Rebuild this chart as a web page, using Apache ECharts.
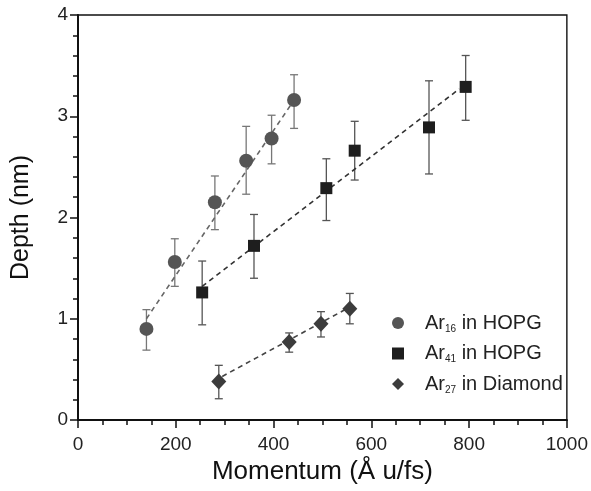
<!DOCTYPE html>
<html>
<head>
<meta charset="utf-8">
<script src="https://cdn.jsdelivr.net/npm/echarts@6/dist/echarts.min.js"></script>
<style>html,body{margin:0;padding:0;background:#fff}#c{width:591px;height:491px}</style>
</head>
<body>
<div id="c"></div>
<script>
// Ar16 in HOPG
var ar16X = [140, 198, 280, 344, 396, 442];
var ar16Y = [0.90, 1.56, 2.15, 2.56, 2.78, 3.16];
var ar16Lo = [0.69, 1.32, 1.88, 2.23, 2.53, 2.88];
var ar16Hi = [1.09, 1.79, 2.41, 2.90, 3.01, 3.41];
var ar16Fit = [[140, 1.00], [442, 3.16]];
// Ar41 in HOPG
var ar41X = [254, 360, 508, 566, 718, 793];
var ar41Y = [1.26, 1.72, 2.29, 2.66, 2.89, 3.29];
var ar41Lo = [0.94, 1.40, 1.97, 2.37, 2.43, 2.96];
var ar41Hi = [1.57, 2.03, 2.58, 2.95, 3.35, 3.60];
var ar41Fit = [[254, 1.32], [780, 3.27]];
// Ar27 in Diamond
var ar27X = [288, 432, 497, 556];
var ar27Y = [0.38, 0.77, 0.95, 1.10];
var ar27Lo = [0.21, 0.67, 0.82, 0.95];
var ar27Hi = [0.54, 0.86, 1.07, 1.25];
var ar27Fit = [[295, 0.43], [550, 1.10]];
var xTicks = [0, 200, 400, 600, 800, 1000];
var yTicks = [0, 1, 2, 3, 4];

function pts(xs, ys) { return xs.map(function (x, i) { return [x, ys[i]]; }); }
function errs(xs, lo, hi) { return xs.map(function (x, i) { return [x, lo[i], hi[i]]; }); }

function errSeries(data, color) {
  return {
    type: 'custom',
    silent: true,
    z: 1,
    data: data,
    encode: { x: 0, y: [1, 2] },
    renderItem: function (params, api) {
      var x = api.value(0);
      var lo = api.coord([x, api.value(1)]);
      var hi = api.coord([x, api.value(2)]);
      var w = 4;
      var st = { stroke: color, lineWidth: 1.3 };
      return {
        type: 'group',
        children: [
          { type: 'line', shape: { x1: lo[0], y1: lo[1], x2: hi[0], y2: hi[1] }, style: st },
          { type: 'line', shape: { x1: lo[0] - w, y1: lo[1], x2: lo[0] + w, y2: lo[1] }, style: st },
          { type: 'line', shape: { x1: hi[0] - w, y1: hi[1], x2: hi[0] + w, y2: hi[1] }, style: st }
        ]
      };
    }
  };
}
function fitSeries(data, color) {
  return {
    type: 'line', data: data, symbol: 'none', silent: true, z: 2,
    lineStyle: { type: [5, 4], width: 1.6, color: color }
  };
}

var FONT = 'Arial, Liberation Sans, Helvetica, sans-serif';
var chart = echarts.init(document.getElementById('c'));
var names = ['Ar16 in HOPG', 'Ar41 in HOPG', 'Ar27 in Diamond'];
chart.setOption({
  animation: false,
  backgroundColor: '#fff',
  grid: { left: 78, right: 24, top: 15, bottom: 71, show: true, borderColor: '#111', borderWidth: 1.4, backgroundColor: 'transparent' },
  legend: {
    data: [
      { name: names[0], icon: 'circle' },
      { name: names[1], icon: 'rect' },
      { name: names[2], icon: 'diamond' }
    ],
    orient: 'vertical', left: 392, top: 313, padding: 0, itemWidth: 12, itemHeight: 12, itemGap: 9.5,
    formatter: function (n) {
      var m = n.match(/^Ar(\d+)(.*)$/);
      return '{a0|Ar}{s|' + m[1] + '}{a|' + m[2] + '}';
    },
    textStyle: {
      rich: {
        a0: { fontFamily: FONT, fontSize: 20, color: '#222', lineHeight: 22, verticalAlign: 'middle', padding: [0, 0, 0, 16] },
        a: { fontFamily: FONT, fontSize: 20, color: '#222', lineHeight: 22, verticalAlign: 'middle' },
        s: { fontFamily: FONT, fontSize: 10, color: '#222', lineHeight: 4, verticalAlign: 'bottom' }
      }
    }
  },
  xAxis: {
    type: 'value', min: 0, max: 1000, interval: 200,
    name: 'Momentum (Å u/fs)', nameLocation: 'middle', nameGap: 39,
    nameTextStyle: { fontFamily: FONT, fontSize: 26, color: '#111' },
    axisLine: { lineStyle: { color: '#111', width: 2 } },
    axisTick: { inside: false, length: 8, lineStyle: { color: '#111', width: 1.5 } },
    minorTick: { show: true, splitNumber: 4, length: 5, lineStyle: { color: '#111', width: 1.5 } },
    axisLabel: { fontFamily: FONT, fontSize: 19, color: '#222', margin: 15,
      formatter: function (v) { return xTicks.indexOf(v) >= 0 ? String(v) : ''; } },
    splitLine: { show: false }
  },
  yAxis: {
    type: 'value', min: 0, max: 4, interval: 1,
    name: 'Depth (nm)', nameLocation: 'middle', nameGap: 44,
    nameTextStyle: { fontFamily: FONT, fontSize: 25, color: '#111' },
    axisLine: { lineStyle: { color: '#111', width: 2 } },
    axisTick: { inside: false, length: 8, lineStyle: { color: '#111', width: 1.5 } },
    minorTick: { show: true, splitNumber: 5, length: 5, lineStyle: { color: '#111', width: 1.5 } },
    axisLabel: { fontFamily: FONT, fontSize: 19, color: '#222', margin: 10,
      formatter: function (v) { return yTicks.indexOf(v) >= 0 ? String(v) : ''; } },
    splitLine: { show: false }
  },
  series: [
    errSeries(errs(ar16X, ar16Lo, ar16Hi), '#777'),
    errSeries(errs(ar41X, ar41Lo, ar41Hi), '#555'),
    errSeries(errs(ar27X, ar27Lo, ar27Hi), '#555'),
    fitSeries(ar16Fit, '#666'),
    fitSeries(ar41Fit, '#333'),
    fitSeries(ar27Fit, '#444'),
    { name: names[0], type: 'scatter', symbol: 'circle', symbolSize: 14, z: 3, data: pts(ar16X, ar16Y), itemStyle: { color: '#555', opacity: 1 } },
    { name: names[1], type: 'scatter', symbol: 'rect', symbolSize: 12, z: 3, data: pts(ar41X, ar41Y), itemStyle: { color: '#1e1e1e', opacity: 1 } },
    { name: names[2], type: 'scatter', symbol: 'diamond', symbolSize: [15, 16], z: 3, data: pts(ar27X, ar27Y), itemStyle: { color: '#3c3c3c', opacity: 1 } }
  ]
});
</script>
</body>
</html>
